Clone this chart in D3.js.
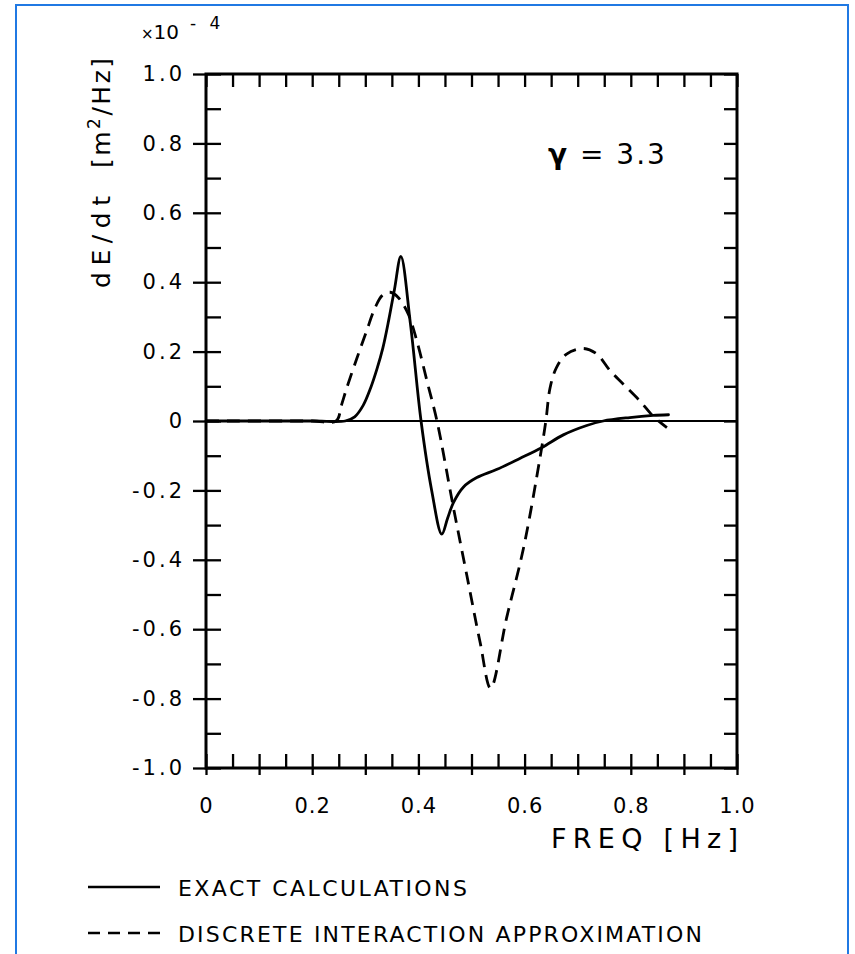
<!DOCTYPE html>
<html><head><meta charset="utf-8">
<script src="https://cdn.jsdelivr.net/npm/d3@7"></script>
<style>body{margin:0;background:#fff}svg{display:block}text{font-family:"DejaVu Sans",sans-serif;fill:#000}</style>
</head><body>
<script>
// ---- data (value units: ×10^-4 m²/Hz) ----
const exactFreq = [0.0, 0.20, 0.262, 0.28, 0.296, 0.31, 0.322, 0.333, 0.344, 0.355, 0.367, 0.385, 0.405, 0.425, 0.444, 0.455, 0.466, 0.485, 0.51, 0.547, 0.591, 0.632, 0.673, 0.717, 0.748, 0.798, 0.842, 0.871];
const exactVal  = [0.0, 0.0, 0.0, 0.012, 0.045, 0.095, 0.15, 0.21, 0.29, 0.38, 0.474, 0.28, 0.0, -0.2, -0.326, -0.28, -0.235, -0.19, -0.163, -0.14, -0.108, -0.077, -0.04, -0.013, 0.0, 0.01, 0.016, 0.018];
const diaFreq = [0.0, 0.20, 0.245, 0.255, 0.265, 0.284, 0.303, 0.318, 0.332, 0.347, 0.362, 0.381, 0.397, 0.417, 0.435, 0.466, 0.491, 0.516, 0.536, 0.566, 0.598, 0.629, 0.640, 0.648, 0.66, 0.679, 0.711, 0.736, 0.761, 0.786, 0.817, 0.842, 0.868];
const diaVal  = [0.0, 0.0, 0.0, 0.045, 0.095, 0.18, 0.262, 0.325, 0.362, 0.371, 0.356, 0.308, 0.231, 0.11, 0.0, -0.25, -0.443, -0.636, -0.77, -0.568, -0.366, -0.106, 0.0, 0.096, 0.154, 0.193, 0.209, 0.193, 0.145, 0.106, 0.058, 0.014, -0.019];
const xTickLabels = ["0", "0.2", "0.4", "0.6", "0.8", "1.0"];
const xTickValues = [0, 0.2, 0.4, 0.6, 0.8, 1.0];
const yTickLabels = ["1.0", "0.8", "0.6", "0.4", "0.2", "0", "-0.2", "-0.4", "-0.6", "-0.8", "-1.0"];
const yTickValues = [1.0, 0.8, 0.6, 0.4, 0.2, 0, -0.2, -0.4, -0.6, -0.8, -1.0];
const legendLabels = ["EXACT CALCULATIONS", "DISCRETE INTERACTION APPROXIMATION"];

const W = 855, H = 954;
const svg = d3.select("body").append("svg").attr("width", W).attr("height", H);

// blue frame
svg.append("rect").attr("x", 16).attr("y", 5).attr("width", 832).attr("height", 960)
  .attr("fill", "none").attr("stroke", "#2079e3").attr("stroke-width", 2);

const x = d3.scaleLinear().domain([0, 1]).range([206, 737]);
const y = d3.scaleLinear().domain([-1, 1]).range([768, 74]);

const g = svg.append("g");

// zero line
g.append("line").attr("x1", x(0)).attr("x2", x(1)).attr("y1", y(0)).attr("y2", y(0))
  .attr("stroke", "#000").attr("stroke-width", 1.8);

const xMinor = d3.range(0, 1.0001, 0.05);
const yMinor = d3.range(-1, 1.0001, 0.1);

// bottom: all ticks upward (inner)
g.append("g").attr("transform", `translate(0,${y(-1)})`)
  .call(d3.axisBottom(x).tickValues(xMinor).tickSize(-14).tickFormat(""))
  .call(a => a.select(".domain").remove());
// bottom: 0.1 ticks downward (outer)
g.append("g").attr("transform", `translate(0,${y(-1)})`)
  .call(d3.axisBottom(x).tickValues(d3.range(0, 1.0001, 0.1)).tickSize(7).tickFormat(""))
  .call(a => a.select(".domain").remove());
// bottom labels
g.append("g").attr("transform", `translate(0,${y(-1)})`)
  .call(d3.axisBottom(x).tickValues(xTickValues).tickSize(0).tickPadding(30)
    .tickFormat((d, i) => xTickLabels[i]))
  .call(a => a.select(".domain").remove())
  .selectAll("text").attr("font-size", 21).attr("letter-spacing", 1)
  .attr("font-family", "DejaVu Sans");

// top ticks downward
g.append("g").attr("transform", `translate(0,${y(1)})`)
  .call(d3.axisTop(x).tickValues(xMinor).tickSize(-13).tickFormat(""))
  .call(a => a.select(".domain").remove());

// left: minor inward
g.append("g").attr("transform", `translate(${x(0)},0)`)
  .call(d3.axisLeft(y).tickValues(yMinor).tickSize(-15).tickFormat(""))
  .call(a => a.select(".domain").remove());
// left: major outward with labels
g.append("g").attr("transform", `translate(${x(0)},0)`)
  .call(d3.axisLeft(y).tickValues(yTickValues).tickSize(13).tickPadding(11)
    .tickFormat((d, i) => yTickLabels[i]))
  .call(a => a.select(".domain").remove())
  .selectAll("text").attr("font-size", 21).attr("letter-spacing", 3)
  .attr("dx", 3).attr("font-family", "DejaVu Sans");

// right: inward
g.append("g").attr("transform", `translate(${x(1)},0)`)
  .call(d3.axisRight(y).tickValues(yMinor).tickSize(-13).tickFormat(""))
  .call(a => a.select(".domain").remove());

g.selectAll(".tick line").attr("stroke", "#000").attr("stroke-width", 2.3);

// frame
g.append("rect").attr("x", x(0)).attr("y", y(1)).attr("width", x(1) - x(0)).attr("height", y(-1) - y(1))
  .attr("fill", "none").attr("stroke", "#000").attr("stroke-width", 3);

// curves
const exact = exactFreq.map((f, i) => [f, exactVal[i]]);
const dia = diaFreq.map((f, i) => [f, diaVal[i]]);
const line = d3.line().x(d => x(d[0])).y(d => y(d[1])).curve(d3.curveCatmullRom.alpha(0.5));

g.append("path").attr("d", line(exact)).attr("fill", "none").attr("stroke", "#000")
  .attr("stroke-width", 2.8).attr("stroke-linejoin", "round").attr("stroke-linecap", "round");
g.append("path").attr("d", line(dia)).attr("fill", "none").attr("stroke", "#000")
  .attr("stroke-width", 2.8).attr("stroke-dasharray", "13,8").attr("stroke-linejoin", "round");

// exponent label
svg.append("text").attr("x", 141).attr("y", 39).attr("font-size", 20)
  .html('<tspan font-size="15">×</tspan>10');
svg.append("text").attr("x", 190).attr("y", 29).attr("font-size", 17).attr("letter-spacing", 4).text("- 4");

// y axis title
svg.append("text").attr("transform", "translate(110,288) rotate(-90)")
  .attr("font-size", 25).attr("textLength", 92).attr("lengthAdjust", "spacing")
  .text("dE/dt");
svg.append("text").attr("transform", "translate(110,168) rotate(-90)")
  .attr("font-size", 25).attr("letter-spacing", 2.5)
  .html('[m<tspan font-size="17" dy="-10">2</tspan><tspan dy="10">/Hz]</tspan>');

// x axis title
svg.append("text").attr("x", 551).attr("y", 848).attr("font-size", 27)
  .attr("textLength", 187).attr("lengthAdjust", "spacing").text("FREQ  [Hz]");

// gamma
svg.append("text").attr("x", 548).attr("y", 164).attr("font-size", 28)
  .attr("letter-spacing", 2).html('<tspan font-weight="bold">γ</tspan> = 3.3');

// legend
const legY = [887, 933];
svg.append("line").attr("x1", 88).attr("x2", 160).attr("y1", legY[0]).attr("y2", legY[0])
  .attr("stroke", "#000").attr("stroke-width", 2.4);
svg.append("line").attr("x1", 88).attr("x2", 160).attr("y1", legY[1]).attr("y2", legY[1])
  .attr("stroke", "#000").attr("stroke-width", 2.4).attr("stroke-dasharray", "12,8");
svg.append("text").attr("x", 178).attr("y", legY[0] + 9).attr("font-size", 22)
  .attr("textLength", 289).attr("lengthAdjust", "spacing").text(legendLabels[0]);
svg.append("text").attr("x", 178).attr("y", legY[1] + 9).attr("font-size", 22)
  .attr("textLength", 524).attr("lengthAdjust", "spacing").text(legendLabels[1]);
</script>
</body></html>
